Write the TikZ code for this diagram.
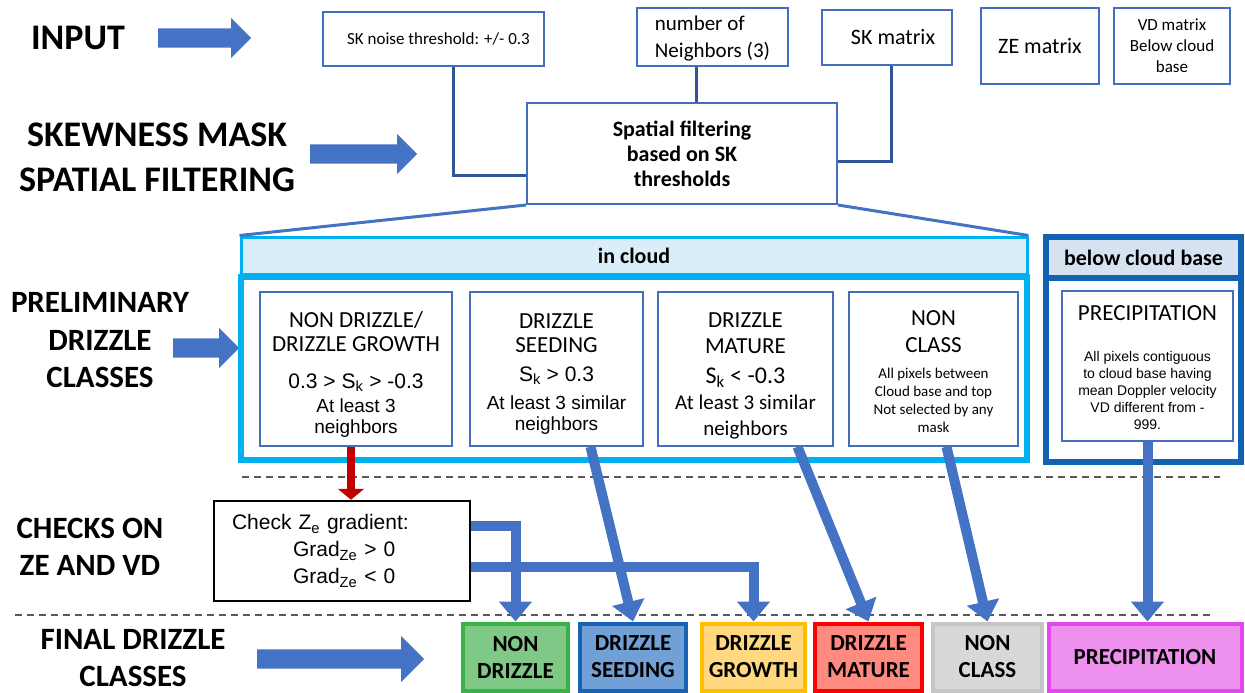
\documentclass[tikz,border=0pt]{standalone}
\usepackage{xcolor}
\usepackage{tikz}
\usepackage{fontspec}
\setmainfont{Carlito}
\newfontfamily\arialfont{Liberation Sans}
\usetikzlibrary{calc,arrows.meta,shapes.arrows}

\definecolor{flowblue}{RGB}{68,114,196}
\definecolor{boxblue}{RGB}{70,110,190}
\definecolor{linkblue}{RGB}{47,85,151}
\definecolor{cloudcyan}{RGB}{0,176,240}
\definecolor{cloudfill}{RGB}{218,238,249}
\definecolor{basedark}{RGB}{16,98,178}
\definecolor{basefill}{RGB}{214,226,240}
\definecolor{checkred}{RGB}{192,0,0}
\definecolor{greenfill}{RGB}{128,200,133}
\definecolor{greenline}{RGB}{58,178,72}
\definecolor{seedfill}{RGB}{112,160,214}
\definecolor{seedline}{RGB}{22,98,180}
\definecolor{growfill}{RGB}{255,216,128}
\definecolor{growline}{RGB}{255,190,0}
\definecolor{maturefill}{RGB}{255,138,128}
\definecolor{matureline}{RGB}{250,0,0}
\definecolor{nonfill}{RGB}{216,216,216}
\definecolor{nonline}{RGB}{198,198,198}
\definecolor{precfill}{RGB}{238,145,238}
\definecolor{precline}{RGB}{226,72,240}

\begin{document}
\begin{tikzpicture}[x=1pt, y=-1pt,
    rowtitle/.style = {align=center, font=\bfseries\fontsize{31}{37.5}\selectfont, inner sep=0pt},
    blockarrow/.style = {single arrow, fill=flowblue, inner sep=0pt, inner ysep=9.5pt,
      minimum width=0pt, single arrow head extend=10.5pt, anchor=tail},
    topbox/.style = {draw=boxblue, line width=1.5pt, fill=white, inner sep=0pt, align=center},
    innerbox/.style = {topbox, align=flush center, minimum height=154pt, font=\fontsize{23}{24}\selectfont},
    finalbox/.style = {line width=4pt, minimum height=67pt, inner sep=0pt, align=center,
      font=\bfseries\fontsize{23}{27}\selectfont},
    flowarrow/.style = {draw=flowblue, line width=10pt, -{Triangle[width=32pt,length=20pt]}},
    linkline/.style = {draw=linkblue, line width=3pt},
    rowsep/.style = {draw=black!65, line width=1.5pt, dash pattern=on 7pt off 5pt}]
      \useasboundingbox (0,0) rectangle (1245,693);

      % row titles
      \node[rowtitle, font=\bfseries\fontsize{36}{39}\selectfont] (input) at (78,38) {INPUT};
      \node[rowtitle, font=\bfseries\fontsize{36}{45}\selectfont] (skew) at (157,157.5) {SKEWNESS MASK\\SPATIAL FILTERING};
      \node[rowtitle] (prelim) at (100,340.5) {PRELIMINARY\\DRIZZLE\\CLASSES};
      \node[rowtitle, font=\bfseries\fontsize{31}{37}\selectfont] (checks) at (90,546.5) {CHECKS ON\\ZE AND VD};
      \node[rowtitle, font=\bfseries\fontsize{31}{37}\selectfont] (final) at (133,658.5) {FINAL DRIZZLE\\CLASSES};

      \node[blockarrow, minimum height=93pt] (inputarrow) at (158,38) {};
      \node[blockarrow, minimum height=107pt] (skewarrow) at (310,154) {};
      \node[blockarrow, minimum height=66pt] (prelimarrow) at (173,348) {};
      \node[blockarrow, minimum height=167pt, single arrow head extend=13.5pt] (finalarrow) at (257,659) {};

      % inputs
      \node[topbox, minimum width=221pt, minimum height=54pt, font=\fontsize{17}{21}\selectfont] (sknoise) at (433.5,39) {\hspace*{10pt}SK noise threshold: +/- 0.3};
      \node[topbox, minimum width=151pt, minimum height=58pt, align=left, text depth=0pt, font=\fontsize{21}{27}\selectfont] (neighbors) at (712.5,37) {number of\\Neighbors (3)};
      \node[topbox, minimum width=130pt, minimum height=55pt, font=\fontsize{22}{24}\selectfont] (skmatrix) at (887,37.5) {\hspace*{12pt}SK matrix};
      \node[topbox, minimum width=118pt, minimum height=76pt, font=\fontsize{22}{24}\selectfont] (zematrix) at (1040,46) {ZE matrix};
      \node[topbox, minimum width=116pt, minimum height=76pt, font=\fontsize{17}{21}\selectfont] (vdmatrix) at (1172,46) {VD matrix\\Below cloud\\base};

      \node[topbox, line width=2pt, minimum width=310pt, minimum height=101pt, font=\bfseries\fontsize{22}{25}\selectfont] (filter) at (682,153.5) {Spatial filtering\\based on SK\\thresholds};

      \coordinate (sktail) at ($ (sknoise.south) + (20,0) $);
      \coordinate (nbtail) at ($ (neighbors.south) + (-16,0) $);
      \coordinate (smtail) at ($ (skmatrix.south) + (4,0) $);
      \draw[linkline] (sktail) |- ($ (filter.west) + (0,22) $);
      \draw[linkline] (nbtail) -- (nbtail |- filter.north);
      \draw[linkline] (smtail) |- ($ (filter.east) + (0,8) $);

      % in cloud / below cloud base
      \node[draw=cloudcyan, line width=5.5pt, minimum width=786pt, minimum height=183pt, inner sep=0pt] (cloudbody) at (634,368.5) {};
      \node[draw=cloudcyan, fill=cloudfill, line width=3pt, minimum width=786pt, minimum height=37pt, inner sep=0pt,
        font=\bfseries\fontsize{22}{24}\selectfont] (cloudhead) at (634,255.5) {in cloud};
      \node[draw=basedark, line width=6pt, minimum width=195pt, minimum height=184pt, inner sep=0pt] (basebody) at (1143.5,370) {};
      \node[draw=basedark, fill=basefill, line width=6pt, minimum width=195pt, minimum height=41pt, inner sep=0pt,
        font=\bfseries\fontsize{22}{24}\selectfont] (basehead) at (1143.5,257.5) {below cloud base};

      \draw[draw=flowblue, line width=3pt] (filter.south west) -- (cloudhead.north west);
      \draw[draw=flowblue, line width=3pt] (filter.south east) -- (cloudhead.north east);

      \node[innerbox, minimum width=192pt, text width=186pt] (preA) at (356,369) {\rule{0pt}{26pt}NON DRIZZLE/\\DRIZZLE GROWTH\par
        \vspace{12pt}\arialfont\fontsize{21}{25}\selectfont 0.3 > S\textsubscript{k} > -0.3\par
        \vspace{3pt}\fontsize{19}{21}\selectfont At least 3\\neighbors\par};
      \node[innerbox, minimum width=173pt, text width=167pt] (preB) at (556.5,369) {\rule{0pt}{24pt}DRIZZLE\\SEEDING\par
        \vspace{4pt}\arialfont\fontsize{21}{25}\selectfont S\textsubscript{k} > 0.3\par
        \vspace{7pt}\fontsize{19}{21}\selectfont At least 3 similar\\neighbors\par};
      \node[innerbox, minimum width=175pt, text width=169pt, font=\fontsize{23}{26}\selectfont] (preC) at (745.5,369) {\rule{0pt}{29pt}DRIZZLE\\MATURE\par
        \vspace{4pt}\fontsize{24}{26}\selectfont S\textsubscript{k} < -0.3\par
        \fontsize{21}{26}\selectfont At least 3 similar\\neighbors\par};
      \node[innerbox, minimum width=169pt, text width=163pt, font=\fontsize{23}{27}\selectfont] (preD) at (933.5,369) {\rule{0pt}{20pt}NON\\CLASS\par
        \vspace{8pt}\fontsize{15}{18}\selectfont All pixels between\\Cloud base and top\\Not selected by any\\mask\par};
      \node[innerbox, minimum width=171pt, minimum height=150pt, text width=165pt, font=\fontsize{23}{26}\selectfont] (precipin) at (1147.5,366) {\rule{0pt}{18pt}PRECIPITATION\par
        \vspace{24pt}\arialfont\fontsize{14}{17}\selectfont All pixels contiguous\\to cloud base having\\mean Doppler velocity\\VD different from -\\999.\par};

      % checks
      \node[draw=black, line width=2.5pt, fill=white, text width=220pt, align=left, inner xsep=18pt, inner ysep=0pt,
        minimum height=100pt, font=\arialfont\fontsize{21}{27}\selectfont] (check) at (342,551)
        {Check Z\textsubscript{e} gradient:\\\hspace*{61pt}Grad\textsubscript{Ze} > 0\\\hspace*{61pt}Grad\textsubscript{Ze} < 0};

      \draw[rowsep] (242,477) -- (1220,477);
      \draw[rowsep] (15,615) -- (1210,615);

      % final classes
      \node[finalbox, draw=greenline, fill=greenfill, minimum width=105pt] (nondrizzle) at (515.5,657) {NON\\DRIZZLE};
      \node[finalbox, draw=seedline, fill=seedfill, minimum width=106pt] (seeding) at (633,657) {DRIZZLE\\SEEDING};
      \node[finalbox, draw=growline, fill=growfill, minimum width=103pt] (growth) at (753.5,657) {DRIZZLE\\GROWTH};
      \node[finalbox, draw=matureline, fill=maturefill, minimum width=107pt] (mature) at (868.5,657) {DRIZZLE\\MATURE};
      \node[finalbox, draw=nonline, fill=nonfill, minimum width=109pt] (nonclass) at (987.5,657) {NON\\CLASS};
      \node[finalbox, draw=precline, fill=precfill, minimum width=193pt] (precip) at (1145,657) {PRECIPITATION};

      \coordinate (redtail) at ($ (preA.south) + (-5,0) $);
      \draw[draw=checkred, line width=8pt, -{Triangle[width=26pt,length=11pt]}] (redtail) -- (redtail |- check.north);

      \draw[flowarrow] ($ (check.east) + (0,-25) $) -| (nondrizzle.north);
      \draw[flowarrow] ($ (check.east) + (0,16) $) -| (growth.north);
      \draw[flowarrow] ($ (preB.south) + (34,0) $) -- (seeding.north);
      \draw[flowarrow] ($ (preC.south) + (52,0) $) -- (mature.north);
      \draw[flowarrow] ($ (preD.south) + (13,0) $) -- (nonclass.north);
      \draw[flowarrow] (precipin.south) -- (precipin.south |- precip.north);
\end{tikzpicture}
\end{document}
